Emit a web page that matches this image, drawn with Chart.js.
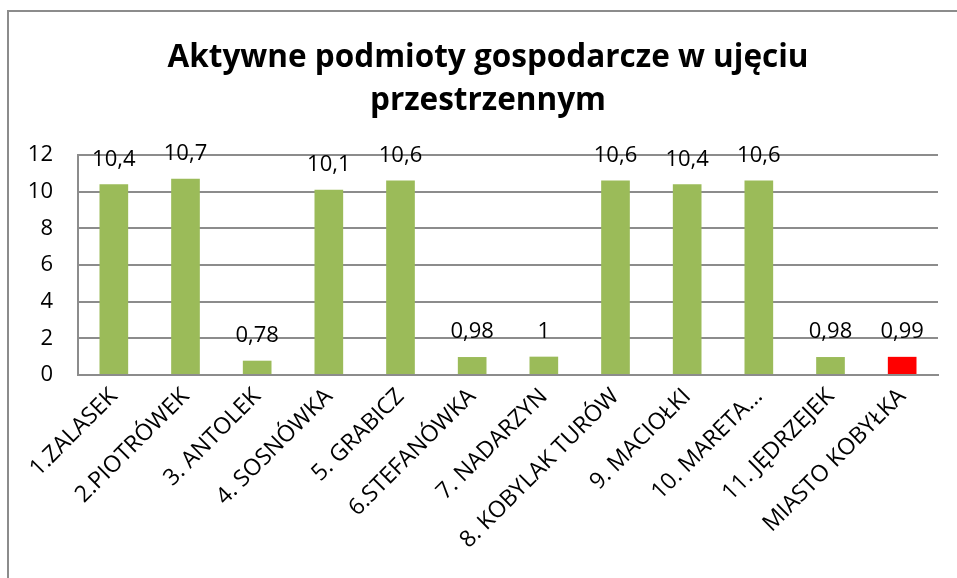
<!DOCTYPE html>
<html>
<head>
<meta charset="utf-8">
<script src="https://cdn.jsdelivr.net/npm/chart.js@4"></script>
<style>
  html, body { margin: 0; padding: 0; background: #fff; }
  #wrap { position: relative; width: 957px; height: 578px; overflow: hidden; }
  #ramka { position: absolute; left: 7px; top: 10px; width: 1000px; height: 600px;
           border-left: 2px solid #8c8c8c; border-top: 2px solid #8c8c8c; }
  canvas { position: absolute; left: 0; top: 0; }
</style>
</head>
<body>
<div id="wrap">
  <div id="ramka"></div>
  <canvas id="wykres" width="957" height="578"></canvas>
</div>
<script>
/* ========== DANE ========== */
const tytul = ['Aktywne podmioty gospodarcze w ujęciu', 'przestrzennym'];
const miejscowosci = ['1.ZALASEK', '2.PIOTRÓWEK', '3. ANTOLEK', '4. SOSNÓWKA', '5. GRABICZ',
  '6.STEFANÓWKA', '7. NADARZYN', '8. KOBYLAK TURÓW', '9. MACIOŁKI', '10. MARETA...',
  '11. JĘDRZEJEK', 'MIASTO KOBYŁKA'];
const wartosci = [10.4, 10.7, 0.78, 10.1, 10.6, 0.98, 1, 10.6, 10.4, 10.6, 0.98, 0.99];
const kolory = ['#9BBB59', '#9BBB59', '#9BBB59', '#9BBB59', '#9BBB59', '#9BBB59',
  '#9BBB59', '#9BBB59', '#9BBB59', '#9BBB59', '#9BBB59', '#FF0000'];

const FONT = "'Open Sans', 'DejaVu Sans', sans-serif";

// etykiety nad słupkami (przecinek dziesiętny)
const etykiety = {
  id: 'etykiety',
  afterLayout(chart) {
    // tytuł wyśrodkowany względem całej ramki (w oryginale ucięta z prawej)
    chart.titleBlock.left = 38;
    chart.titleBlock.right = 938;
  },
  afterDatasetsDraw(chart) {
    const { ctx } = chart;
    const meta = chart.getDatasetMeta(0);
    ctx.save();
    ctx.font = '22px ' + FONT;
    ctx.fillStyle = '#000';
    ctx.textAlign = 'center';
    ctx.textBaseline = 'middle';
    meta.data.forEach((bar, i) => {
      ctx.fillText(String(wartosci[i]).replace('.', ','), bar.x, bar.y - 25);
    });
    ctx.restore();
  }
};

new Chart(document.getElementById('wykres'), {
  type: 'bar',
  data: {
    labels: miejscowosci,
    datasets: [{
      data: wartosci,
      backgroundColor: kolory,
      barPercentage: 0.4,
      categoryPercentage: 1
    }]
  },
  options: {
    responsive: false,
    animation: false,
    layout: { padding: { left: 0, right: 19, top: 0, bottom: 0 } },
    plugins: {
      legend: { display: false },
      tooltip: { enabled: false },
      title: {
        display: true,
        text: tytul,
        color: '#000',
        font: { family: FONT, size: 31.5, weight: 'bold', lineHeight: 1.38 },
        padding: { top: 36, bottom: 32 }
      }
    },
    scales: {
      x: {
        grid: { display: false, drawTicks: false },
        border: { display: true, color: '#8c8c8c', width: 2 },
        ticks: { color: '#000', font: { family: FONT, size: 23 }, maxRotation: 45, minRotation: 45, autoSkip: false, padding: 8 },
        afterFit(s) { s.height = 203; }
      },
      y: {
        min: 0, max: 12,
        grid: { color: '#8c8c8c', lineWidth: 2, drawTicks: false },
        border: { display: true, color: '#8c8c8c', width: 2 },
        ticks: { stepSize: 2, color: '#000', font: { family: FONT, size: 22 }, padding: 25 },
        afterFit(s) { s.width = 78; }
      }
    }
  },
  plugins: [etykiety]
});
</script>
</body>
</html>
